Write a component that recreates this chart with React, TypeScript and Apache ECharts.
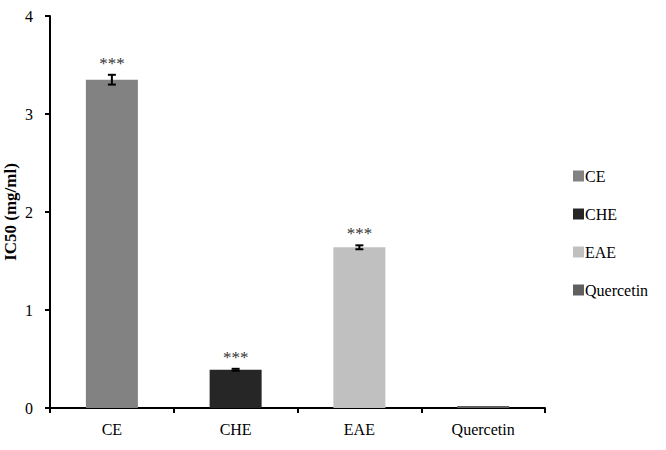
import React, { useEffect, useRef } from "react";
import * as echarts from "echarts";

const categories = ["CE", "CHE", "EAE", "Quercetin"];
const values = [3.35, 0.39, 1.64, 0.02];
const errors = [0.05, 0.01, 0.02, 0.005];
const marks = ["***", "***", "***", ""];
const colors = ["#828282", "#262626", "#c0c0c0", "#5f5f5f"];
const yTicks = [0, 1, 2, 3, 4];

const FONT = "Liberation Serif";

export default function App() {
  const ref = useRef<HTMLDivElement>(null);
  useEffect(() => {
    if (!ref.current) return;
    const chart = echarts.init(ref.current, null, { renderer: "svg" });
    const barSeries = categories.map((name, i) => ({
      name,
      type: "bar",
      stack: "all",
      barWidth: 52,
      itemStyle: { color: colors[i] },
      data: categories.map((_, j) => (j === i ? values[i] : "-")),
    }));
    const errData = categories.map((_, i) => [i, values[i], errors[i], marks[i]]);
    chart.setOption({
      animation: false,
      textStyle: { fontFamily: FONT },
      color: colors,
      grid: { left: 50, right: 121, top: 16, bottom: 42, containLabel: false, outerBoundsMode: "none" },
      legend: {
        orient: "vertical",
        left: 568,
        top: 163,
        itemWidth: 11,
        itemHeight: 11,
        itemGap: 22,
        icon: "rect",
        data: categories,
        textStyle: { fontFamily: FONT, fontSize: 16, color: "#000", padding: [0, 0, 0, -4] },
      },
      xAxis: {
        type: "category",
        data: categories,
        axisLine: { lineStyle: { color: "#000", width: 2 } },
        axisTick: { show: true, length: 5, lineStyle: { color: "#000", width: 2 } },
        axisLabel: { fontFamily: FONT, fontSize: 16, color: "#000", margin: 13 },
      },
      yAxis: {
        type: "value",
        min: yTicks[0],
        max: yTicks[yTicks.length - 1],
        interval: 1,
        name: "IC50 (mg/ml)",
        nameLocation: "middle",
        nameGap: 31,
        nameMoveOverlap: false,
        nameTextStyle: { fontFamily: FONT, fontSize: 17, fontWeight: "bold", color: "#000" },
        axisLine: { show: true, lineStyle: { color: "#000", width: 2 } },
        axisTick: { show: true, length: 5, lineStyle: { color: "#000", width: 2 } },
        axisLabel: { fontFamily: FONT, fontSize: 16, color: "#000", margin: 17 },
        splitLine: { show: false },
      },
      series: [
        ...barSeries,
        {
          type: "custom",
          name: "err",
          data: errData,
          z: 10,
          renderItem: (params: any, api: any) => {
            const x = api.value(0);
            const v = api.value(1);
            const e = api.value(2);
            const hi = api.coord([x, v + e]);
            const lo = api.coord([x, v - e]);
            const mark = marks[params.dataIndex];
            const children: any[] = [];
            if (e > 0.008) {
              const w = 4;
              const st = { stroke: "#000", lineWidth: 2 };
              children.push(
                { type: "line", shape: { x1: hi[0], y1: hi[1], x2: lo[0], y2: lo[1] }, style: st },
                { type: "line", shape: { x1: hi[0] - w, y1: hi[1], x2: hi[0] + w, y2: hi[1] }, style: st },
                { type: "line", shape: { x1: lo[0] - w, y1: lo[1], x2: lo[0] + w, y2: lo[1] }, style: st }
              );
            }
            if (mark) {
              children.push({
                type: "text",
                style: {
                  text: mark,
                  x: hi[0],
                  y: hi[1] - 3,
                  align: "center",
                  verticalAlign: "bottom",
                  fontFamily: FONT,
                  fontSize: 17,
                  fill: "#333",
                },
              });
            }
            return { type: "group", children };
          },
        },
      ],
    });
    return () => chart.dispose();
  }, []);
  return <div ref={ref} style={{ width: 666, height: 450, position: "absolute", left: 0, top: 0, background: "#fff" }} />;
}
